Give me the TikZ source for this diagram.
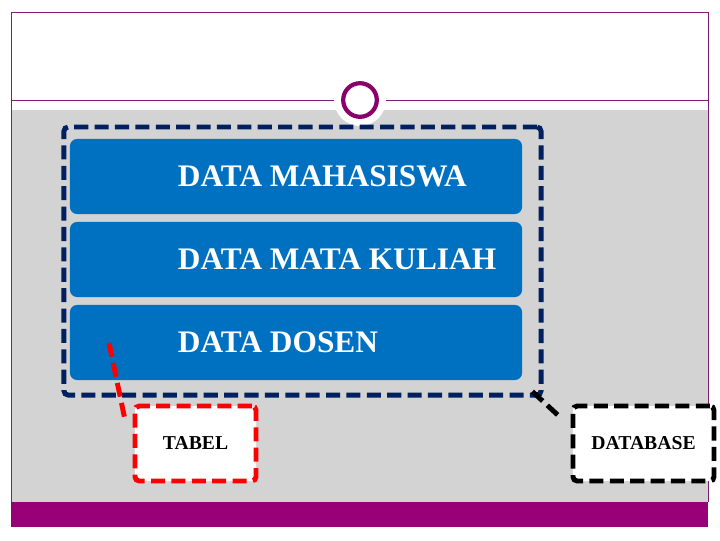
\documentclass[tikz,border=0pt]{standalone}
\usepackage{fontspec}
\setmainfont{Liberation Serif}
\definecolor{framepurple}{RGB}{128,30,110}
\definecolor{barpurple}{RGB}{153,0,119}
\definecolor{slidegrey}{RGB}{211,211,211}
\definecolor{navydash}{RGB}{0,32,96}
\definecolor{boxblue}{RGB}{0,112,192}
\tikzset{
  databox/.style={draw=none, fill=boxblue, rounded corners=5pt,
    minimum width=11.3cm, minimum height=1.875cm, inner sep=0pt},
  datalbl/.style={anchor=west, text=white, font=\bfseries\fontsize{22.3}{24}\selectfont, inner sep=0pt},
  tagbox/.style={fill=white, line width=3.5pt, dash pattern=on 10pt off 4.5pt,
    rounded corners=3pt, minimum height=1.875cm, inner sep=0pt,
    font=\bfseries\fontsize{14}{16}\selectfont},
  tagline/.style={line width=3.5pt, dash pattern=on 10pt off 4.5pt}
}
\begin{document}
\begin{tikzpicture}[x=0.025cm, y=-0.025cm]
  \useasboundingbox (0,0) rectangle (720,540);
  % slide background
  \fill[white] (0,0) rectangle (720,540);
  \fill[slidegrey] (11,110) rectangle (708,502);
  \fill[barpurple] (11,502) rectangle (708,527);
  \draw[framepurple, line width=0.6pt] (11,502) -- (11,12) -- (708,12) -- (708,502);
  \draw[framepurple, line width=0.6pt] (11,100) -- (708,100);
  % ring on the title line
  \node[circle, draw=white, line width=5pt, fill=white, minimum size=1.12cm] (ringbg) at (360,100) {};
  \node[circle, draw=barpurple!90!black, line width=3pt, fill=white, minimum size=0.84cm] (ring) at (360,100) {};
  % dashed group round the three tables
  \node[draw=navydash, line width=3.5pt, dash pattern=on 10pt off 4.5pt, rounded corners=3pt,
    minimum width=11.925cm, minimum height=6.7cm, inner sep=0pt] (grp) at (302.5,261) {};
  \node[databox] (mhs) at (296,176.5) {};
  \node[databox] (mk) at (296,259.5) {};
  \node[databox] (dsn) at (296,342.5) {};
  \node[datalbl] (tmhs) at ([xshift=2.7cm]mhs.west) {DATA MAHASISWA};
  \node[datalbl] (tmk) at ([xshift=2.7cm]mk.west) {DATA MATA KULIAH};
  \node[datalbl] (tdsn) at ([xshift=2.7cm]dsn.west) {DATA DOSEN};
  % callouts
  \node[tagbox, draw=red, minimum width=3.025cm] (tabel) at (195.5,443.5) {TABEL};
  \node[tagbox, draw=black, minimum width=3.525cm] (db) at (643.5,443.5) {DATABASE};
  \coordinate (tp) at (109,343);
  \draw[tagline, red] (tp) -- ([xshift=-0.2cm,yshift=-0.35cm]tabel.north west);
  \draw[tagline, black] ([xshift=-0.28cm,yshift=0.15cm]grp.south east) -- ([xshift=-0.25cm,yshift=-0.35cm]db.north west);
\end{tikzpicture}
\end{document}
